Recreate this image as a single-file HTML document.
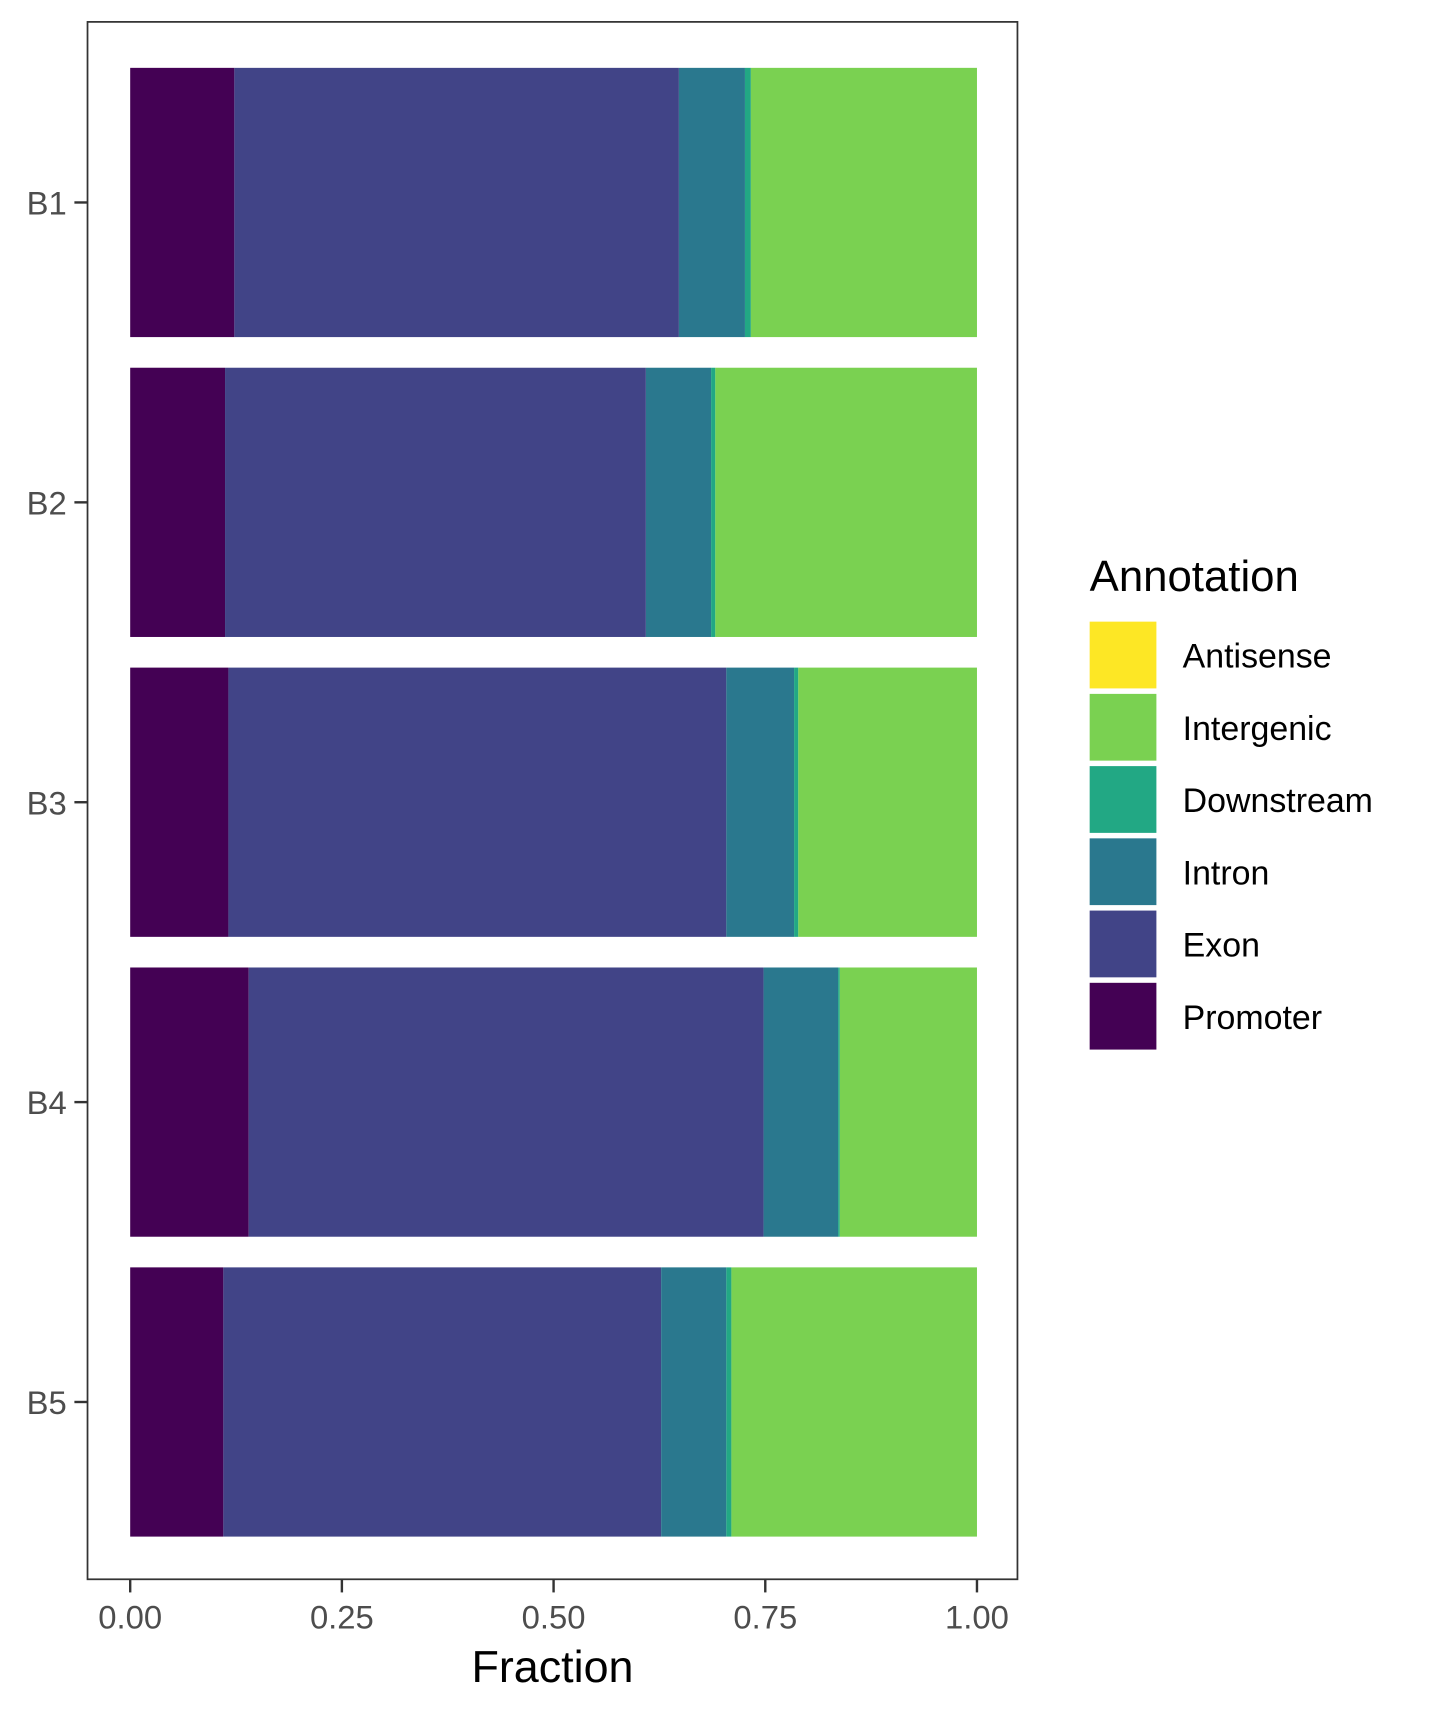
<!DOCTYPE html>
<html><head><meta charset="utf-8"><style>
html,body{margin:0;padding:0;background:#fff}
svg{display:block;font-family:"Liberation Sans",sans-serif}
</style></head><body>
<svg id="chart" width="1431" height="1715" viewBox="0 0 1308 1567" preserveAspectRatio="none" xmlns="http://www.w3.org/2000/svg">
<rect x="80" y="20" width="850" height="1423" fill="#fff" stroke="#333" stroke-width="1.6"/>
<g id="bars"></g>
<g id="axes"></g>
<g id="legend"></g>
<text x="505" y="1537" font-size="41" text-anchor="middle" fill="#000">Fraction</text>
</svg>
<script>
const categories = ["B1","B2","B3","B4","B5"];
const seriesNames = ["Promoter","Exon","Intron","Downstream","Intergenic","Antisense"];
const promoter   = [0.123,0.112,0.116,0.140,0.110];
const exon       = [0.525,0.497,0.588,0.608,0.517];
const intron     = [0.078,0.077,0.080,0.088,0.077];
const downstream = [0.007,0.005,0.005,0.002,0.006];
const intergenic = [0.267,0.309,0.211,0.162,0.290];
const antisense  = [0,0,0,0,0];
const xTicks = [0,0.25,0.5,0.75,1];
const xTickLabels = ["0.00","0.25","0.50","0.75","1.00"];
const colors = ["#440154","#414487","#2A788E","#22A884","#7AD151","#FDE725"];
const series = [promoter,exon,intron,downstream,intergenic,antisense];
const NS="http://www.w3.org/2000/svg";
const xs = v => 119 + v*774;
const yc = i => 185 + i*274;
const bh = 246;
function mk(tag, attrs, parent){const e=document.createElementNS(NS,tag);for(const k in attrs)e.setAttribute(k,attrs[k]);parent.appendChild(e);return e;}
const bars=document.getElementById('bars');
categories.forEach((c,i)=>{
  let cum=0;
  series.forEach((s,j)=>{
    const v=s[i];
    const r=mk('rect',{x:xs(cum),y:yc(i)-bh/2,width:Math.max(0,xs(cum+v)-xs(cum)),height:bh,fill:colors[j]},bars);
    
    
    cum+=v;
  });
});
const axes=document.getElementById('axes');
categories.forEach((c,i)=>{
  const t=mk('line',{x1:68,x2:80,y1:yc(i),y2:yc(i),stroke:'#333','stroke-width':2.2},axes);
  
  
  const l=mk('text',{x:61,y:yc(i)+11,'font-size':30,'text-anchor':'end',fill:'#4d4d4d'},axes);
  l.textContent=c;
  
  
});
xTicks.forEach((v,i)=>{
  const t=mk('line',{x1:xs(v),x2:xs(v),y1:1443,y2:1455,stroke:'#333','stroke-width':2.2},axes);
  
  
  const l=mk('text',{x:xs(v),y:1488,'font-size':30,'text-anchor':'middle',fill:'#4d4d4d'},axes);
  l.textContent=xTickLabels[i];
  
  
});
const lg=document.getElementById('legend');
const tt=mk('text',{x:996,y:540,'font-size':40,fill:'#000'},lg);
tt.textContent='Annotation';


for(let k=0;k<6;k++){
  const j=5-k;
  const y=568+k*66;
  const r=mk('rect',{x:996,y:y,width:61,height:61,fill:colors[j]},lg);
  
  
  const l=mk('text',{x:1081,y:y+42,'font-size':31,fill:'#000'},lg);
  l.textContent=seriesNames[j];
  
  
}
</script>
</body></html>
